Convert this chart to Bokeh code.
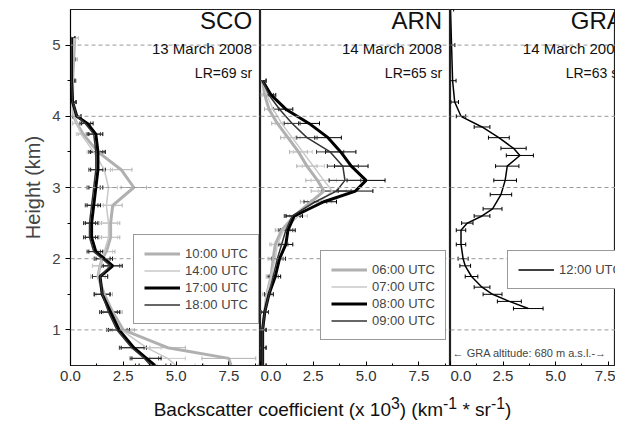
from bokeh.plotting import figure
from bokeh.layouts import row, column
from bokeh.models import ColumnDataSource, Whisker, Legend, LegendItem, Label, Span, FixedTicker, Div
from bokeh.embed import file_html
from bokeh.resources import INLINE

# ---------------- data ----------------
sco_h = [0.5, 0.6, 0.75, 1.0, 1.25, 1.5, 1.75, 1.9, 2.0, 2.1, 2.3, 2.5, 2.75, 3.0, 3.25, 3.5, 3.75, 3.9, 4.0, 4.2, 4.5, 4.8, 5.1]
sco_10 = [7.6, 7.5, 4.6, 2.5, 2.0, 1.6, 1.3, 1.4, 1.5, 1.7, 1.9, 1.9, 2.0, 3.0, 2.4, 1.3, 0.6, 0.3, 0.15, 0.1, 0.1, 0.15, 0.2]
sco_14 = [5.0, 4.6, 3.6, 2.4, 1.9, 1.5, 1.3, 1.4, 1.5, 1.6, 1.8, 1.8, 1.7, 1.8, 1.6, 1.1, 0.5, 0.3, 0.15, 0.1, 0.1, 0.1, 0.2]
sco_17 = [4.0, 3.6, 3.0, 2.3, 1.9, 1.5, 1.4, 2.0, 1.6, 1.2, 1.0, 1.0, 1.1, 1.2, 1.3, 1.3, 1.2, 0.8, 0.3, 0.1, 0.05, 0.05, 0.05]
sco_18 = [3.8, 3.5, 2.9, 2.2, 1.8, 1.5, 1.4, 1.9, 1.5, 1.1, 0.9, 0.9, 1.0, 1.1, 1.2, 1.2, 1.1, 0.7, 0.3, 0.1, 0.05, 0.05, 0.05]

arn_h = [0.5, 0.75, 1.0, 1.25, 1.5, 1.75, 2.0, 2.2, 2.4, 2.6, 2.8, 2.95, 3.1, 3.3, 3.5, 3.7, 3.9, 4.1, 4.3, 4.5]
arn_06 = [0.1, 0.1, 0.1, 0.2, 0.3, 0.5, 0.6, 0.7, 1.0, 1.6, 2.4, 3.0, 2.7, 2.2, 1.8, 1.3, 0.8, 0.4, 0.2, 0.1]
arn_07 = [0.1, 0.1, 0.1, 0.2, 0.3, 0.5, 0.7, 0.8, 1.1, 1.8, 2.8, 3.4, 3.0, 2.5, 2.0, 1.5, 1.0, 0.6, 0.3, 0.1]
arn_08 = [0.1, 0.1, 0.1, 0.2, 0.4, 0.7, 0.9, 1.2, 1.3, 1.6, 3.0, 4.5, 5.0, 4.3, 3.8, 3.2, 2.3, 1.2, 0.5, 0.1]
arn_09 = [0.1, 0.1, 0.1, 0.2, 0.4, 0.6, 0.8, 1.0, 1.2, 1.5, 2.6, 3.6, 4.0, 3.9, 3.3, 2.2, 1.5, 0.9, 0.4, 0.1]

gra_h = [1.3, 1.4, 1.5, 1.6, 1.75, 1.9, 2.0, 2.2, 2.4, 2.5, 2.6, 2.7, 2.9, 3.1, 3.3, 3.45, 3.55, 3.7, 3.85, 4.0, 4.2, 4.5, 5.0, 5.5]
gra_12 = [3.7, 2.8, 2.0, 1.5, 1.0, 0.7, 0.6, 0.5, 0.5, 0.8, 1.5, 2.0, 2.4, 2.6, 2.7, 3.3, 3.0, 2.3, 1.5, 0.5, 0.2, 0.1, 0.05, 0.0]

rel_err = 0.15
x_ticks = [0.0, 2.5, 5.0, 7.5]
FONT = "Liberation Sans"
LGRAY = "#c8c8c8"
MGRAY = "#b0b0b0"

def mk(width, xmax, left=0):
    p = figure(width=width, height=393, x_range=(0, xmax), y_range=(0.5, 5.5),
               output_backend="svg", toolbar_location=None,
               min_border_left=left, min_border_right=0, min_border_top=9, min_border_bottom=28)
    p.xgrid.visible = False
    p.ygrid.visible = False
    p.outline_line_color = "#222222"
    p.outline_line_width = 1.2
    p.xaxis.ticker = FixedTicker(ticks=x_ticks, minor_ticks=[1.25, 3.75, 6.25, 8.75])
    p.xaxis.major_label_overrides = {t: f"{t:.1f}" for t in x_ticks}
    p.xaxis.major_label_text_font = FONT
    p.xaxis.major_label_text_font_size = "15px"
    p.xaxis.major_label_text_color = "#333333"
    p.xaxis.axis_line_color = "#222222"
    p.xaxis.major_tick_in = 4
    p.xaxis.major_tick_out = 0
    p.xaxis.minor_tick_in = 2
    p.xaxis.minor_tick_out = 0
    for yv in [1, 2, 3, 4, 5]:
        p.add_layout(Span(location=yv, dimension="width", line_color="#999999",
                          line_dash="4 3", line_width=1))
    return p

def series(p, h, x, color, lw):
    err = [v * rel_err + 0.15 for v in x]
    src = ColumnDataSource(dict(y=h, x=x, lo=[a - e for a, e in zip(x, err)], hi=[a + e for a, e in zip(x, err)]))
    w = Whisker(source=src, base="y", lower="lo", upper="hi", dimension="width",
                line_color=color, line_width=1)
    w.upper_head.size = 4
    w.lower_head.size = 4
    w.upper_head.line_color = color
    w.lower_head.line_color = color
    p.add_layout(w)
    return p.line("x", "y", source=src, line_color=color, line_width=lw)

def titles(p, xr, name, date, lr):
    p.add_layout(Label(x=xr, y=5.15, text=name, text_align="right", text_font=FONT,
                       text_font_size="24px", text_color="#111111"))
    p.add_layout(Label(x=xr, y=4.83, text=date, text_align="right", text_font=FONT,
                       text_font_size="15px", text_color="#111111"))
    p.add_layout(Label(x=xr, y=4.5, text=lr, text_align="right", text_font=FONT,
                       text_font_size="14px", text_color="#111111"))

def legend(p, items, loc):
    lg = Legend(items=[LegendItem(label=l, renderers=[r]) for l, r in items], location=loc,
                label_text_font=FONT, label_text_font_size="13px", glyph_width=36,
                label_height=17, glyph_height=17, spacing=0, padding=10,
                border_line_color="#333333", background_fill_alpha=1)
    p.add_layout(lg)

# Panel 1
p1 = mk(260, 9.0, left=70)
p1.yaxis.axis_label = "Height (km)"
p1.yaxis.axis_label_text_font = FONT
p1.yaxis.axis_label_text_font_size = "20px"
p1.yaxis.axis_label_text_font_style = "normal"
p1.yaxis.major_label_text_font = FONT
p1.yaxis.major_label_text_font_size = "15px"
p1.yaxis.ticker = FixedTicker(ticks=[1, 2, 3, 4, 5], minor_ticks=[1.5, 2.5, 3.5, 4.5])
p1.yaxis.major_tick_in = 0
p1.yaxis.major_tick_out = 5
p1.yaxis.minor_tick_out = 3
p1.yaxis.minor_tick_in = 0
r10 = series(p1, sco_h, sco_10, MGRAY, 3)
r14 = series(p1, sco_h, sco_14, LGRAY, 1.5)
r17 = series(p1, sco_h, sco_17, "#000000", 3)
r18 = series(p1, sco_h, sco_18, "#333333", 1.5)
titles(p1, 8.6, "SCO", "13 March 2008", "LR=69 sr")
legend(p1, [("10:00 UTC", r10), ("14:00 UTC", r14), ("17:00 UTC", r17), ("18:00 UTC", r18)], (63, 41))

# Panel 2
p2 = mk(190, 9.0)
p2.yaxis.visible = False
a6 = series(p2, arn_h, arn_06, MGRAY, 3)
a7 = series(p2, arn_h, arn_07, LGRAY, 1.5)
a8 = series(p2, arn_h, arn_08, "#000000", 3)
a9 = series(p2, arn_h, arn_09, "#333333", 1.5)
titles(p2, 8.6, "ARN", "14 March 2008", "LR=65 sr")
legend(p2, [("06:00 UTC", a6), ("07:00 UTC", a7), ("08:00 UTC", a8), ("09:00 UTC", a9)], (60, 25))

# Panel 3
p3 = mk(165, 7.85)
p3.yaxis.visible = False
g12 = series(p3, gra_h, gra_12, "#000000", 1.5)
titles(p3, 8.2, "GRA", "14 March 2008", "LR=63 sr")
legend(p3, [("12:00 UTC", g12)], (57, 76))
p3.add_layout(Label(x=0.1, y=0.68, text="\u2190 GRA altitude: 680 m a.s.l.-\u2192", text_font=FONT,
                    text_font_size="11px", text_baseline="middle"))

xlabel = Div(text="Backscatter coefficient (x 10<sup>3</sup>) (km<sup>-1</sup> * sr<sup>-1</sup>)",
             width=581, height=28, margin=(0, 0, 0, 42),
             styles={"text-align": "center", "font-family": FONT, "font-size": "19px", "color": "#111111"})

out = column(row(p1, p2, p3, spacing=0), xlabel, spacing=0)
open("out.html", "w").write(file_html(out, INLINE))
